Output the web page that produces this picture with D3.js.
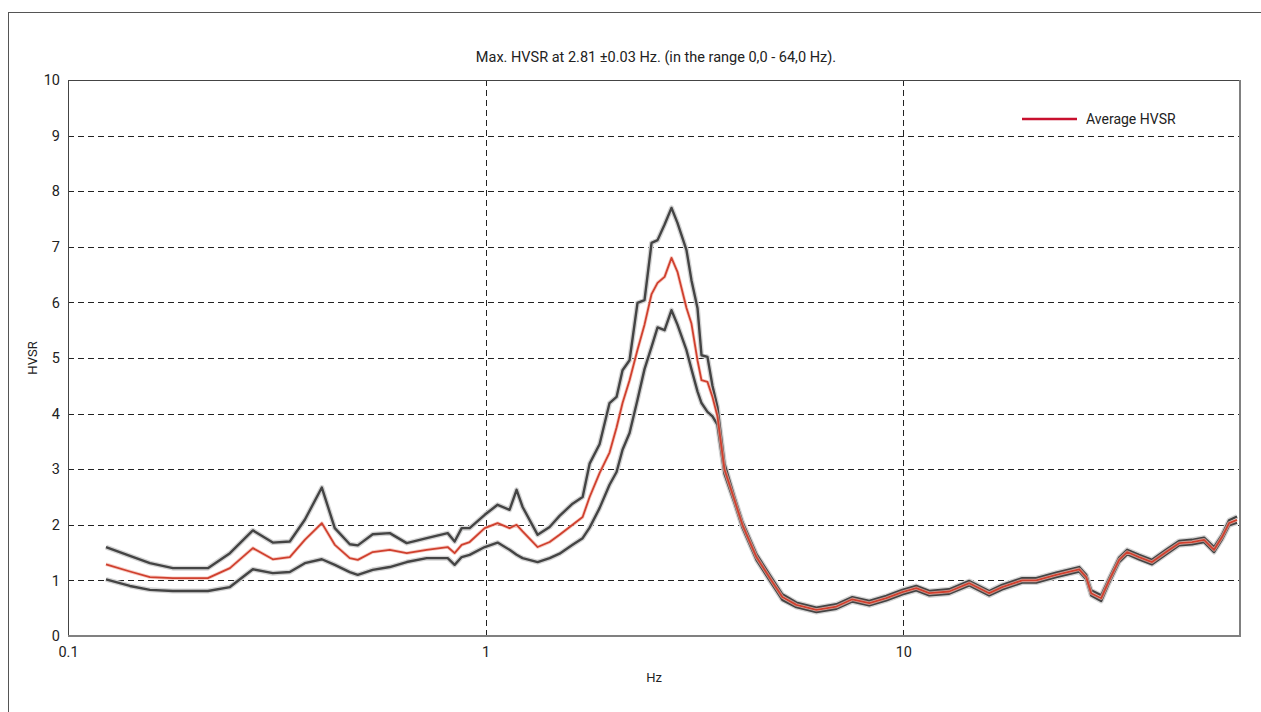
<!DOCTYPE html>
<html>
<head>
<meta charset="utf-8">
<script src="https://cdn.jsdelivr.net/npm/d3@7"></script>
<style>
  body { margin: 0; background: #fff; }
  svg text { font-family: Roboto, "Liberation Sans", sans-serif; fill: #222; }
  .grid line { stroke: #222; stroke-dasharray: 6,4; stroke-width: 1; }
</style>
</head>
<body>
<svg class="rootSvg" width="1261" height="712"></svg>
<script>
// Frequencies (Hz) shared by the three curves
var freq = [0.1233, 0.1407, 0.1571, 0.1783, 0.2162, 0.2442, 0.2771, 0.3093, 0.3397, 0.369,
    0.4053, 0.4353, 0.4728, 0.4941, 0.5366, 0.5893, 0.6471, 0.7227, 0.8111, 0.8428,
    0.8762, 0.9155, 0.995, 1.068, 1.141, 1.186, 1.226, 1.332, 1.423, 1.503,
    1.615, 1.707, 1.774, 1.874, 1.98, 2.058, 2.127, 2.211, 2.31, 2.401,
    2.496, 2.58, 2.682, 2.786, 2.879, 3.026, 3.11, 3.215, 3.287, 3.397,
    3.492, 3.589, 3.73, 3.941, 4.119, 4.45, 4.833, 5.134, 5.546, 6.193,
    6.916, 7.551, 8.291, 9.107, 9.945, 10.74, 11.54, 12.88, 14.39, 16.06,
    17.25, 19.26, 20.81, 23.23, 26.37, 27.41, 28.18, 29.77, 31.11, 32.87,
    34.35, 36.69, 39.4, 42.59, 45.75, 49.13, 52.5, 55.46, 57.97, 60.25, 62.95];

var hvsrMax = [1.60, 1.44, 1.31, 1.22, 1.22, 1.49, 1.90, 1.68, 1.70, 2.09,
    2.67, 1.94, 1.65, 1.63, 1.83, 1.85, 1.67, 1.76, 1.85, 1.70,
    1.94, 1.94, 2.18, 2.36, 2.27, 2.63, 2.32, 1.82, 1.96, 2.16,
    2.38, 2.50, 3.10, 3.45, 4.19, 4.30, 4.78, 4.96, 5.99, 6.04,
    7.07, 7.12, 7.40, 7.70, 7.43, 6.94, 6.40, 5.90, 5.05, 5.02,
    4.50, 4.12, 3.10, 2.50, 2.05, 1.47, 1.05, 0.75, 0.60, 0.51,
    0.57, 0.70, 0.63, 0.72, 0.83, 0.90, 0.81, 0.84, 0.99, 0.81,
    0.92, 1.04, 1.04, 1.14, 1.24, 1.10, 0.82, 0.73, 1.04, 1.41,
    1.55, 1.46, 1.37, 1.55, 1.71, 1.73, 1.77, 1.60, 1.82, 2.08, 2.15];

var hvsrAvg = [1.29, 1.16, 1.06, 1.04, 1.04, 1.22, 1.58, 1.38, 1.42, 1.73,
    2.03, 1.64, 1.40, 1.37, 1.51, 1.55, 1.49, 1.55, 1.60, 1.49,
    1.64, 1.69, 1.94, 2.03, 1.94, 2.00, 1.88, 1.60, 1.69, 1.82,
    2.00, 2.14, 2.50, 2.93, 3.30, 3.75, 4.19, 4.60, 5.15, 5.60,
    6.15, 6.35, 6.46, 6.80, 6.55, 5.90, 5.62, 4.96, 4.60, 4.57,
    4.30, 3.95, 3.00, 2.45, 2.00, 1.42, 1.00, 0.70, 0.56, 0.47,
    0.53, 0.66, 0.59, 0.68, 0.79, 0.86, 0.77, 0.80, 0.95, 0.77,
    0.88, 1.00, 1.00, 1.10, 1.20, 1.06, 0.77, 0.68, 1.00, 1.37,
    1.51, 1.42, 1.33, 1.51, 1.67, 1.69, 1.73, 1.55, 1.78, 2.03, 2.09];

var hvsrMin = [1.02, 0.90, 0.83, 0.81, 0.81, 0.88, 1.20, 1.13, 1.15, 1.31,
    1.38, 1.28, 1.15, 1.10, 1.19, 1.24, 1.33, 1.40, 1.40, 1.28,
    1.42, 1.46, 1.60, 1.68, 1.55, 1.46, 1.40, 1.33, 1.40, 1.48,
    1.64, 1.76, 1.95, 2.30, 2.72, 2.95, 3.35, 3.65, 4.25, 4.80,
    5.20, 5.55, 5.50, 5.86, 5.60, 5.14, 4.80, 4.40, 4.19, 4.03,
    3.95, 3.80, 2.92, 2.40, 1.95, 1.37, 0.95, 0.65, 0.52, 0.43,
    0.49, 0.62, 0.55, 0.64, 0.75, 0.82, 0.73, 0.76, 0.91, 0.73,
    0.84, 0.96, 0.96, 1.06, 1.16, 1.02, 0.73, 0.63, 0.96, 1.33,
    1.47, 1.38, 1.29, 1.47, 1.63, 1.65, 1.69, 1.51, 1.74, 1.99, 2.04];

var xTicks = [0.1, 1, 10];
var yTicks = [0, 1, 2, 3, 4, 5, 6, 7, 8, 9, 10];
var title = 'Max. HVSR at 2.81 \u00b10.03 Hz. (in the range 0,0 - 64,0 Hz).';

// note: "top" is taken by window.top, so use plot* names
var plotLeft = 68, plotRight = 1240, plotTop = 80, plotBottom = 636;

var svg = d3.select('.rootSvg');

var x = d3.scaleLog().domain([0.1, 64]).range([plotLeft, plotRight]);
var y = d3.scaleLinear().domain([0, 10]).range([plotBottom, plotTop]);

// Outer frame
svg.append('rect')
    .attr('x', 8.5).attr('y', 12.5)
    .attr('width', 1262).attr('height', 710)
    .attr('fill', 'none')
    .attr('stroke', '#555')
    .attr('stroke-width', 1);

// Grid
var grid = svg.append('g').attr('class', 'grid');

grid.selectAll('.hline')
    .data(yTicks.slice(1, -1))
    .enter()
    .append('line')
        .attr('x1', plotLeft).attr('x2', plotRight)
        .attr('y1', function (d) { return Math.round(y(d)) + 0.5; })
        .attr('y2', function (d) { return Math.round(y(d)) + 0.5; });

grid.selectAll('.vline')
    .data(xTicks.slice(1))
    .enter()
    .append('line')
        .attr('y1', plotTop).attr('y2', plotBottom)
        .attr('x1', function (d) { return Math.round(x(d)) + 0.5; })
        .attr('x2', function (d) { return Math.round(x(d)) + 0.5; });

// Plot border
svg.append('line').attr('x1', plotLeft).attr('x2', plotRight)
    .attr('y1', plotTop + 0.5).attr('y2', plotTop + 0.5)
    .attr('stroke', '#444');
svg.append('line').attr('x1', plotLeft + 0.5).attr('x2', plotLeft + 0.5)
    .attr('y1', plotTop).attr('y2', plotBottom)
    .attr('stroke', '#444');
svg.append('line').attr('x1', plotRight).attr('x2', plotRight)
    .attr('y1', plotTop).attr('y2', plotBottom + 1)
    .attr('stroke', '#808080').attr('stroke-width', 2);
svg.append('line').attr('x1', plotLeft).attr('x2', plotRight + 1)
    .attr('y1', plotBottom).attr('y2', plotBottom)
    .attr('stroke', '#808080').attr('stroke-width', 2);

// Axes labels
var yAxis = d3.axisLeft(y).tickValues(yTicks).tickSize(0).tickPadding(8).tickFormat(d3.format('d'));
svg.append('g')
    .attr('transform', `translate(${plotLeft},0)`)
    .call(yAxis)
    .call(function (g) { g.select('.domain').remove(); })
    .selectAll('text')
        .style('font-size', '14.5px')
        .style('font-family', 'Roboto, sans-serif')
        .attr('fill', '#222');

var xAxis = d3.axisBottom(x).tickValues(xTicks).tickSize(0).tickPadding(11)
    .tickFormat(function (d) { return d < 1 ? '0.1' : String(d); });
svg.append('g')
    .attr('transform', `translate(0,${plotBottom})`)
    .call(xAxis)
    .call(function (g) { g.select('.domain').remove(); })
    .selectAll('text')
        .style('font-size', '14.5px')
        .style('font-family', 'Roboto, sans-serif')
        .attr('fill', '#222');

svg.append('text')
    .attr('x', (plotLeft + plotRight) / 2)
    .attr('y', 682)
    .attr('text-anchor', 'middle')
    .style('font-size', '13px')
    .text('Hz');

svg.append('text')
    .attr('transform', `translate(37,${(plotTop + plotBottom) / 2}) rotate(-90)`)
    .attr('text-anchor', 'middle')
    .style('font-size', '13px')
    .text('HVSR');

svg.append('text')
    .attr('x', 656)
    .attr('y', 62)
    .attr('text-anchor', 'middle')
    .style('font-size', '14.5px')
    .text(title);

// Curves
function curve(values) {
    return d3.line()
        .x(function (d, i) { return x(freq[i]); })
        .y(function (d) { return y(d); })(values);
}

var lines = svg.append('g').attr('fill', 'none').attr('stroke-linejoin', 'round');

[hvsrMax, hvsrMin].forEach(function (s) {
    lines.append('path')
        .attr('d', curve(s))
        .attr('stroke', '#d4d4d4')
        .attr('stroke-width', 5);
});
[hvsrMax, hvsrMin].forEach(function (s) {
    lines.append('path')
        .attr('d', curve(s))
        .attr('stroke', '#444')
        .attr('stroke-width', 2.4);
});
lines.append('path')
    .attr('d', curve(hvsrAvg))
    .attr('stroke', '#f2b8ae')
    .attr('stroke-width', 3.5)
    .attr('stroke-opacity', 0.7);
lines.append('path')
    .attr('d', curve(hvsrAvg))
    .attr('stroke', '#d0402e')
    .attr('stroke-width', 1.8);

// Legend
svg.append('line')
    .attr('x1', 1022).attr('x2', 1077)
    .attr('y1', 119).attr('y2', 119)
    .attr('stroke', '#c8102e')
    .attr('stroke-width', 2.5);

svg.append('text')
    .attr('x', 1086)
    .attr('y', 124)
    .style('font-size', '14px')
    .text('Average HVSR');
</script>
</body>
</html>
